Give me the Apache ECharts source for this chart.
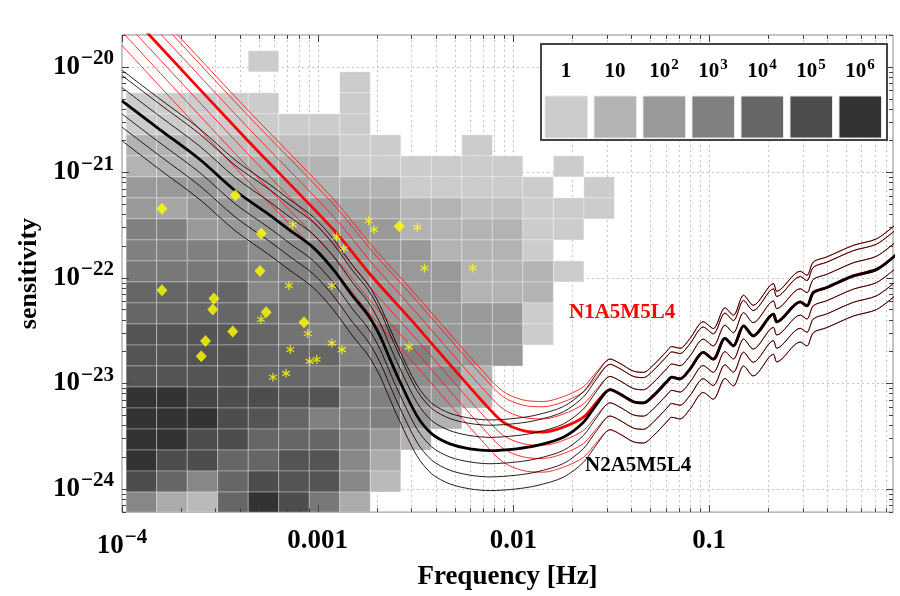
<!DOCTYPE html>
<html><head><meta charset="utf-8">
<script src="https://cdn.jsdelivr.net/npm/echarts@6/dist/echarts.min.js"></script>
<style>html,body{margin:0;padding:0;background:#fff}#c{width:900px;height:596px}</style>
</head><body><div id="c"></div>
<script>
// ---------- data ----------
const _ = null;
// frequency bin edges [Hz] of the event-density map (16 columns)
const freqEdges = [1.050e-4,1.504e-4,2.154e-4,3.084e-4,4.416e-4,6.323e-4,9.053e-4,1.296e-3,1.856e-3,2.658e-3,3.805e-3,5.449e-3,7.802e-3,1.117e-2,1.600e-2,2.291e-2,3.280e-2];
// sensitivity bin edges (22 rows, bottom to top)
const sensEdges = [5.875e-25,9.297e-25,1.471e-24,2.326e-24,3.680e-24,5.821e-24,9.209e-24,1.457e-23,2.304e-23,3.645e-23,5.767e-23,9.123e-23,1.443e-22,2.283e-22,3.611e-22,5.712e-22,9.036e-22,1.429e-21,2.261e-21,3.577e-21,5.658e-21,8.951e-21,1.416e-20];
// log10(count) per cell; rows listed from top (highest sensitivity) to bottom
const heatLog = [
 [_,_,_,_,0,_,_,_,_,_,_,_,_,_,_,_],
 [_,_,_,_,_,_,_,0,_,_,_,_,_,_,_,_],
 [0,0,0,0,0,_,_,0,_,_,_,_,_,_,_,_],
 [0,0,0,0,0,0,0,0,_,_,_,_,_,_,_,_],
 [1,1,0.5,0.5,0.5,0.5,0.5,0,0,_,_,0,_,_,_,_],
 [1,1,1,1,1,1,1,0,0,0,0,0,0,_,0,_],
 [2,2,2,1.5,1.5,1.5,1,1,1,0,0,0,0,0,_,0],
 [2,1.5,2,2,2,2,2,1.5,1.5,1,1,0.5,0.5,0,0,0],
 [3,3,2,2,2,2,2,2,2,1,1,1,1,0,0,_],
 [3,3,3,3,2.5,2.5,2.5,2,2,2,1,1,1,0,_,_],
 [3.3,3.3,3.3,3.3,3,3,3,2,2,2,2,1,1,1,0,_],
 [4,4,4,4,2.7,3.3,3,2,2,2,2,1,1,1,_,_],
 [4,4,4,4,3.6,3.6,3,2.5,2,2,2,2,2,0,_,_],
 [4.7,4.7,4.7,4.5,4,3.5,3,3,3,2,2,2,2,0,_,_],
 [4.7,4.7,4.7,4.7,4,4,4,3,3,3,2,2,2,_,_,_],
 [4.7,4.7,4.7,4.7,4,4,3.5,3.5,3,2.5,2.5,1,_,_,_,_],
 [6,6,5.3,5,5,4.7,4.7,3,3,2,2,1,_,_,_,_],
 [6,6,6,5,4.7,4,3,3,3,2,1,_,_,_,_,_],
 [6,6,5,5,4,4,4,3,2,1,_,_,_,_,_,_],
 [6,5,5,4,4,4.7,4.7,2.7,1.3,_,_,_,_,_,_,_],
 [5,4,2.7,4,5,4.7,4.7,2.7,0.7,_,_,_,_,_,_,_],
 [2.7,1.3,0.7,4,6,5,3.3,1.3,_,_,_,_,_,_,_,_]
];
// N2A5M5L4 (black) low-frequency part
const n2LowFreq = [1.0e-4,1.56e-4,2.50e-4,3.78e-4,5.71e-4,7.22e-4,9.5e-4,1.20e-3,1.51e-3,1.81e-3,2.08e-3,2.34e-3,2.58e-3,3.21e-3,3.83e-3,4.74e-3,6.0e-3,7.59e-3,1.04e-2,1.32e-2,1.80e-2,2.28e-2,2.67e-2];
const n2LowSens = [4.76e-21,2.54e-21,1.32e-21,6.71e-22,3.90e-22,2.81e-22,1.93e-22,1.20e-22,6.71e-23,4.42e-23,2.81e-23,1.69e-23,1.12e-23,4.93e-24,3.31e-24,2.66e-24,2.39e-24,2.30e-24,2.39e-24,2.57e-24,3.08e-24,4.27e-24,6.35e-24];
// N1A5M5L4 (red) low-frequency part
const n1LowFreq = [1.0e-4,1.38e-4,4.34e-4,1.20e-3,1.92e-3,3.08e-3,5.13e-3,7.02e-3,8.87e-3,1.12e-2,1.42e-2,1.80e-2,2.28e-2,2.67e-2];
const n1LowSens = [3.82e-20,2.00e-20,2.04e-21,2.87e-22,1.00e-22,3.77e-23,1.27e-23,6.59e-24,4.27e-24,3.56e-24,3.44e-24,3.83e-24,4.76e-24,6.64e-24];
// shared high-frequency part (both configurations coincide)
const hfFreq = [3.12e-2,3.50e-2,4.10e-2,4.61e-2,5.19e-2,6.07e-2,6.44e-2,7.10e-2,7.98e-2,9.33e-2,0.105,0.1205,0.133,0.150,0.168,0.213,0.2216,0.292,0.316,0.341,0.399,0.546,0.718,0.909];
const hfSens = [8.69e-24,7.91e-24,6.68e-24,6.50e-24,7.62e-24,1.03e-23,1.14e-23,1.10e-23,1.36e-23,1.96e-23,1.69e-23,2.66e-23,2.26e-23,3.50e-23,2.81e-23,4.51e-23,3.82e-23,5.90e-23,5.41e-23,7.24e-23,8.07e-23,1.04e-22,1.20e-22,1.67e-22];
// vertical spread of the thin companion curves relative to the thick one (decades)
const bandOffsets = [-0.38,-0.25,-0.125,0.125,0.24,0.29];
// sources: diamonds and asterisks [frequency, sensitivity]
const diamonds = [[1.60e-4,4.51e-22],[3.80e-4,6.06e-22],[5.15e-4,2.63e-22],[5.07e-4,1.16e-22],[2.61e-3,3.08e-22],[1.60e-4,7.60e-23],[2.95e-4,6.35e-23],[2.91e-4,5.00e-23],[5.45e-4,4.71e-23],[8.51e-4,3.79e-23],[3.68e-4,3.10e-23],[2.67e-4,2.51e-23],[2.54e-4,1.80e-23]];
const stars = [[7.45e-4,3.18e-22],[1.25e-3,2.45e-22],[1.36e-3,1.89e-22],[1.82e-3,3.47e-22],[1.94e-3,2.87e-22],[3.23e-3,3.00e-22],[3.51e-3,1.23e-22],[6.20e-3,1.23e-22],[7.13e-4,8.43e-23],[1.18e-3,8.43e-23],[5.13e-4,4.02e-23],[8.89e-4,2.96e-23],[7.24e-4,2.09e-23],[1.18e-3,2.40e-23],[1.33e-3,2.08e-23],[9.10e-4,1.61e-23],[9.88e-4,1.68e-23],[6.89e-4,1.24e-23],[5.91e-4,1.14e-23],[2.93e-3,2.21e-23]];
// tick labels
const xTickText = {'-4':'{b|10}{s|−4}','-3':'{b|0.001}','-2':'{b|0.01}','-1':'{b|0.1}'};
const yTickExp = [-24,-23,-22,-21,-20];
const legendLabels = ['{b|1}','{b|10}','{b|10}{s|2}','{b|10}{s|3}','{b|10}{s|4}','{b|10}{s|5}','{b|10}{s|6}'];
const legendLevels = [0,1,2,3,4,5,6];
const curveNames = ['N1A5M5L4','N2A5M5L4'];

// ---------- chart ----------
// ECharts rounds tiny values to 20 decimals, so sensitivities are plotted in units of 1e-24
const EXP0 = -24, YS = Math.pow(10, -EXP0);
const FONT = '"Liberation Serif","Times New Roman",serif';
const gray = v => { const g = Math.round(204 - 25.5 * v); return 'rgb(' + g + ',' + g + ',' + g + ')'; };
const chart = echarts.init(document.getElementById('c'));

const heatData = [];
heatLog.forEach((row, i) => {
  const r = heatLog.length - 1 - i;
  row.forEach((v, c) => { if (v !== null) heatData.push([freqEdges[c], sensEdges[r] * YS, freqEdges[c + 1], sensEdges[r + 1] * YS, v]); });
});

const n2Freq = n2LowFreq.concat(hfFreq), n2Sens = n2LowSens.concat(hfSens);
const n1Freq = n1LowFreq.concat(hfFreq), n1Sens = n1LowSens.concat(hfSens);
const pairs = (fs, ss, off) => fs.map((f, i) => [f, ss[i] * YS * Math.pow(10, off)]);
const scalePts = arr => arr.map(p => [p[0], p[1] * YS]);

const lineS = (data, color, width, z) => ({
  type: 'line', data, showSymbol: false, symbol: 'none', smooth: 0.3, clip: true, silent: true,
  lineStyle: { color, width }, z
});

const series = [];
const xMin = 1e-4, xMax = 0.87, yMin = 6.0e-25 * YS, yMax = 2.0e-20 * YS;
const xTickVals = [], xMajor = [];
for (let e = -4; e <= -1; e++) for (let k = 1; k <= 9; k++) { const v = k * Math.pow(10, e); if (v >= xMin * 0.999 && v <= xMax) { xTickVals.push(v); if (k === 1) xMajor.push(v); } }
const yTickVals = [], yMajorVals = [];
for (let e = -1; e <= 4; e++) for (let k = 1; k <= 9; k++) { const v = k * Math.pow(10, e); if (v >= yMin && v <= yMax) { yTickVals.push(v); if (k === 1) yMajorVals.push(v); } }
const MID = [1e-3, 1];

// dotted grid lines
series.push({
  type: 'custom', z: 1, silent: true, data: [MID], encode: { x: 0, y: 1 },
  renderItem: (p, api) => {
    const cs = p.coordSys, ch = [];
    const st = { stroke: '#c4c4c4', lineWidth: 1, lineDash: [2, 3] };
    xTickVals.forEach(v => { const x = Math.round(api.coord([v, 1])[0]) + 0.5; ch.push({ type: 'line', shape: { x1: x, y1: cs.y, x2: x, y2: cs.y + cs.height }, style: st }); });
    yMajorVals.forEach(v => { const y = Math.round(api.coord([1e-3, v])[1]) + 0.5; ch.push({ type: 'line', shape: { x1: cs.x, y1: y, x2: cs.x + cs.width, y2: y }, style: st }); });
    return { type: 'group', children: ch };
  }
});
// density map
series.push({
  type: 'custom', z: 2, silent: true, clip: true, data: heatData, encode: { x: [0, 2], y: [1, 3] },
  renderItem: (p, api) => {
    const a = api.coord([api.value(0), api.value(1)]);
    const b = api.coord([api.value(2), api.value(3)]);
    const cs = p.coordSys;
    const rect = echarts.graphic.clipRectByRect({ x: a[0], y: b[1], width: b[0] - a[0], height: a[1] - b[1] }, { x: cs.x, y: cs.y, width: cs.width, height: cs.height });
    if (!rect) return null;
    return { type: 'rect', shape: rect, style: { fill: gray(api.value(4)), stroke: 'rgba(255,255,255,0.3)', lineWidth: 1 } };
  }
});
// ticks on all four sides
series.push({
  type: 'custom', z: 3, silent: true, data: [MID], encode: { x: 0, y: 1 },
  renderItem: (p, api) => {
    const cs = p.coordSys, ch = [];
    const st = { stroke: '#444', lineWidth: 1 };
    xTickVals.forEach(v => {
      const L = xMajor.includes(v) ? 7 : 4;
      const x = Math.round(api.coord([v, 1])[0]) + 0.5;
      ch.push({ type: 'line', shape: { x1: x, y1: cs.y + cs.height, x2: x, y2: cs.y + cs.height - L }, style: st });
      ch.push({ type: 'line', shape: { x1: x, y1: cs.y, x2: x, y2: cs.y + L }, style: st });
    });
    yTickVals.forEach(v => {
      const L = yMajorVals.includes(v) ? 7 : 4;
      const y = Math.round(api.coord([1e-3, v])[1]) + 0.5;
      ch.push({ type: 'line', shape: { x1: cs.x, y1: y, x2: cs.x + L, y2: y }, style: st });
      ch.push({ type: 'line', shape: { x1: cs.x + cs.width, y1: y, x2: cs.x + cs.width - L, y2: y }, style: st });
    });
    return { type: 'group', children: ch };
  }
});
// curves: red family then black family
bandOffsets.forEach(o => series.push(lineS(pairs(n1Freq, n1Sens, o), '#ff1a1a', 0.9, 4)));
series.push(lineS(pairs(n1Freq, n1Sens, 0), '#ff0000', 2.8, 5));
bandOffsets.forEach(o => series.push(lineS(pairs(n2Freq, n2Sens, o), '#1a0000', 0.9, 6)));
series.push(lineS(pairs(n2Freq, n2Sens, 0), '#000000', 2.8, 7));

// markers
const ang = [90, 30, -30];
let starPath = 'path://';
ang.forEach(a => {
  const r = a * Math.PI / 180, c = Math.cos(r), s = Math.sin(r), L = 8, W = 1.1;
  const pts = [[-L, -W], [L, -W], [L, W], [-L, W]].map(([u, w]) => [(u * c - w * s).toFixed(3), (u * s + w * c).toFixed(3)]);
  starPath += 'M' + pts.map(q => q.join(' ')).join('L') + 'Z';
});
series.push({ type: 'scatter', z: 8, silent: true, data: scalePts(diamonds), symbol: 'diamond', symbolSize: [11, 12], itemStyle: { color: '#ffff00' } });
series.push({ type: 'scatter', z: 8, silent: true, data: scalePts(stars), symbol: starPath, symbolKeepAspect: true, symbolSize: 9, itemStyle: { color: '#ffff1a' } });

const isDecade = v => Math.abs(Math.log10(v) - Math.round(Math.log10(v))) < 1e-6;
const rich = { b: { fontFamily: FONT, fontWeight: 'bold', fontSize: 27, color: '#000' }, s: { fontFamily: FONT, fontWeight: 'bold', fontSize: 21, color: '#000', padding: [0, 0, 16, 1] } };

const legendGraphic = [{ type: 'rect', z: 100, shape: { x: 541, y: 44, width: 346, height: 96 }, style: { fill: '#fff', stroke: '#444', lineWidth: 2 } }];
legendLabels.forEach((t, i) => {
  legendGraphic.push({ type: 'text', z: 101, x: 566 + 49 * i, y: 72, style: { text: t, align: 'center', verticalAlign: 'middle', rich: { b: { fontFamily: FONT, fontWeight: 'bold', fontSize: 21, fill: '#000' }, s: { fontFamily: FONT, fontWeight: 'bold', fontSize: 15, fill: '#000', padding: [0, 0, 13, 1] } } } });
  legendGraphic.push({ type: 'rect', z: 101, shape: { x: 545 + 49 * i, y: 96, width: 42.5, height: 42 }, style: { fill: gray(legendLevels[i]), stroke: '#e6e6e6', lineWidth: 1 } });
});
legendGraphic.push({ type: 'text', z: 101, x: 569, y: 313, style: { text: curveNames[0], fill: '#ff0000', font: 'bold 21px ' + FONT, verticalAlign: 'middle' } });
legendGraphic.push({ type: 'text', z: 101, x: 585, y: 466, style: { text: curveNames[1], fill: '#000', font: 'bold 21px ' + FONT, verticalAlign: 'middle' } });

chart.setOption({
  animation: false,
  backgroundColor: '#fff',
  grid: { left: 122, right: 7, top: 35, bottom: 83, show: true, borderColor: '#8c8c8c', borderWidth: 1 },
  xAxis: {
    type: 'log', logBase: 10, min: xMin, max: xMax,
    name: 'Frequency [Hz]', nameLocation: 'middle', nameGap: 50,
    nameTextStyle: { fontFamily: FONT, fontWeight: 'bold', fontSize: 27, color: '#000' },
    axisLine: { show: false }, axisTick: { show: false }, splitLine: { show: false },
    axisLabel: { margin: 15, rich, formatter: v => isDecade(v) ? (xTickText[String(Math.round(Math.log10(v)))] || '') : '' }
  },
  yAxis: {
    type: 'log', logBase: 10, min: yMin, max: yMax,
    name: 'sensitivity', nameLocation: 'middle', nameGap: 70, nameRotate: 90,
    nameTextStyle: { fontFamily: FONT, fontWeight: 'bold', fontSize: 26, color: '#000' },
    axisLine: { show: false }, axisTick: { show: false }, splitLine: { show: false },
    axisLabel: { margin: 8, rich, formatter: v => { if (!isDecade(v)) return ''; const e = Math.round(Math.log10(v)) + EXP0; return yTickExp.includes(e) ? '{b|10}{s|−' + (-e) + '}' : ''; } }
  },
  series,
  graphic: legendGraphic
});
</script></body></html>
